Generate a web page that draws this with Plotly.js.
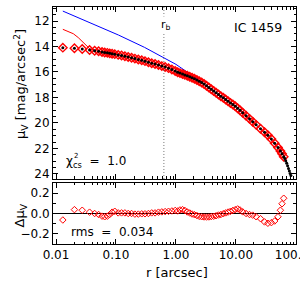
<!DOCTYPE html>
<html><head><meta charset="utf-8">
<script src="https://cdn.plot.ly/plotly-3.0.1.min.js"></script>
<style>html,body{margin:0;padding:0;background:#fff}#chart{width:300px;height:285px}</style>
</head><body><div id="chart"></div>
<script>
// fitted data points (radius in arcsec, surface brightness in mag/arcsec^2)
const rFit = [0.0130,0.0203,0.0274,0.0363,0.0441,0.0514,0.0586,0.0649,0.0719,0.0787,0.0863,0.0955,0.109,0.124,0.141,0.160,0.182,0.207,0.236,0.269,0.305,0.348,0.395,0.449,0.512,0.582,0.661,0.753,0.857,0.973,
  1.07,1.17,1.29,1.41,1.55,1.70,1.86,2.04,2.24,2.45,2.69,2.95,3.24,3.55,3.89,4.27,4.68,5.13,5.62,6.17,6.76,7.41,8.13,8.91,9.77,10.7,11.7,
  13.0,14.8,16.9,19.1,21.8,25.8,30.1,34.2,39.1,44.4,50.4,55.3,58.9,62.8];
const muFit = [14.09,14.14,14.20,14.27,14.33,14.38,14.43,14.47,14.50,14.54,14.57,14.60,14.66,14.71,14.77,14.83,14.89,14.95,15.02,15.08,15.15,15.23,15.31,15.38,15.46,15.54,15.61,15.70,15.81,15.93,
  16.02,16.09,16.16,16.23,16.30,16.38,16.45,16.53,16.63,16.73,16.83,16.95,17.08,17.22,17.36,17.49,17.63,17.77,17.90,18.03,18.16,18.30,18.43,18.56,18.69,18.85,19.01,
  19.20,19.44,19.68,19.91,20.15,20.45,20.73,20.96,21.26,21.60,21.93,22.20,22.42,22.65];
const resid = [-0.064,0.038,0.032,0.013,0.0,-0.010,-0.026,-0.032,-0.026,-0.010,0.013,0.022,0.006,0.006,0.006,0.0,0.0,-0.006,-0.006,-0.003,-0.003,0.0,0.006,0.006,0.013,0.016,0.019,0.022,0.025,0.030,
  0.025,0.035,0.038,0.030,0.015,0.005,-0.005,-0.012,-0.020,-0.028,-0.032,-0.034,-0.035,-0.034,-0.030,-0.027,-0.022,-0.015,-0.010,-0.002,0.006,0.014,0.022,0.030,0.038,0.045,0.035,
  0.016,0.0,-0.010,-0.016,-0.032,-0.051,-0.083,-0.096,-0.090,-0.074,-0.032,0.032,0.096,0.150];
// data points excluded from the fit
const rOut = [65.3,67.9,70.5,72.9,75.5,78.0,80.4,82.8];
const muOut = [22.80,22.98,23.17,23.37,23.57,23.77,23.96,24.12];
// core-Sersic model (red) and its Sersic part (blue)
const rModel = [0.0130,0.0195,0.0235,0.030,0.036,0.044,0.10,0.20,0.40,0.70,1.0,1.5,2.0,3.0,5.0,10,20,30,40,50,60,70];
const muModel = [12.65,13.00,13.30,13.80,14.15,14.32,14.62,14.94,15.31,15.63,15.93,16.23,16.52,17.02,17.75,18.69,19.98,20.80,21.40,21.94,22.38,22.95];
const rSersic = [0.0130,0.030,0.11,0.30,1.0,2.0,3.0,5.0,10,20,30,40,50,60,70];
const muSersic = [11.22,11.95,13.10,14.07,15.40,16.37,17.00,17.75,18.69,19.98,20.80,21.40,21.94,22.38,22.95];
const rBreak = 0.63;
const galaxy = 'IC 1459';
const chi2 = '1.0';
const rms = '0.034';
const xTickVals = [0.01,0.1,1,10,100];
const xTickText = ['0.01','0.10','1.00','10.00','100.00'];
const yTopTicks = [12,14,16,18,20,22,24];
const yBotVals = [-0.2,0,0.2];
const yBotText = ['\u22120.2','0.0','0.2'];

const F = 'DejaVu Sans, sans-serif';
const traces = [
  {x:rSersic, y:muSersic, xaxis:'x2', yaxis:'y2', mode:'lines', line:{color:'#0000ff', width:1}},
  {x:rModel, y:muModel, xaxis:'x2', yaxis:'y2', mode:'lines', line:{color:'#ff0000', width:1}},
  {x:rFit, y:muFit, xaxis:'x2', yaxis:'y2', mode:'markers', marker:{symbol:'diamond-open', size:6.5, color:'#ff0000', line:{width:1.4, color:'#ff0000'}}},
  {x:rFit.concat(rOut), y:muFit.concat(muOut), xaxis:'x2', yaxis:'y2', mode:'markers', marker:{symbol:'circle', size:3, color:'#000000'}},
  {x:rFit, y:resid, xaxis:'x', yaxis:'y', mode:'markers', marker:{symbol:'diamond-open', size:5, color:'#ff0000', line:{width:1, color:'#ff0000'}}}
];
const axCommon = {showline:true, linecolor:'#000', linewidth:1, mirror:'allticks', ticks:'inside', tickcolor:'#000', showgrid:false, zeroline:false, tickfont:{family:F, size:12, color:'#000'}};
const A = (o) => Object.assign({xref:'paper', yref:'paper', showarrow:false, xanchor:'center', yanchor:'middle'}, o);
const layout = {
  width:300, height:285, margin:{l:53, r:4, t:7, b:41}, showlegend:false,
  paper_bgcolor:'#fff', plot_bgcolor:'#fff',
  xaxis: Object.assign({}, axCommon, {type:'log', range:[-2.05, 2.003], anchor:'y', tickmode:'array', tickvals:xTickVals, ticktext:xTickText, ticklen:5,
    ticklabeloverflow:'allow', minor:{ticks:'inside', ticklen:2.5, dtick:'D1', tickcolor:'#000'}}),
  xaxis2: Object.assign({}, axCommon, {type:'log', range:[-2.05, 2.003], anchor:'y2', matches:'x', tickmode:'array', tickvals:xTickVals, showticklabels:false, ticklen:5,
    minor:{ticks:'inside', ticklen:2.5, dtick:'D1', tickcolor:'#000'}}),
  yaxis: Object.assign({}, axCommon, {domain:[0, 0.2574], range:[-0.3, 0.3], anchor:'x', tickmode:'array', tickvals:yBotVals, ticktext:yBotText, ticklen:5,
    zeroline:true, zerolinecolor:'#000', zerolinewidth:1, minor:{ticks:'inside', ticklen:3, dtick:0.1, tickcolor:'#000'}}),
  yaxis2: Object.assign({}, axCommon, {domain:[0.2743, 1], range:[24.4, 10.9], anchor:'x2', tickmode:'array', tickvals:yTopTicks, ticklen:5,
    minor:{ticks:'inside', ticklen:2.5, dtick:0.5, tickcolor:'#000'}}),
  shapes:[{type:'line', xref:'x2', yref:'paper', x0:rBreak, x1:rBreak, y0:0.2743, y1:1, line:{color:'#555', width:0.8, dash:'1px,2px'}}],
  annotations:[
    A({x:0.8436, y:0.9156, text:galaxy, font:{family:F, size:12.5, color:'#000'}}),
    A({x:0.467, y:0.922, text:'r<sub>b</sub>', bgcolor:'#fff', font:{family:F, size:11, color:'#000'}}),
    A({x:0.045, y:0.346, xanchor:'left', text:'\u03c7<sub>cs</sub>  =  ' + chi2, font:{family:F, size:12, color:'#000'}}),
    A({x:0.079, y:0.372, xanchor:'left', text:'2', font:{family:F, size:7, color:'#000'}}),
    A({x:0.0658, y:0.052, xanchor:'left', text:'rms  =  ' + rms, font:{family:F, size:12, color:'#000'}}),
    A({x:-0.132, y:0.675, text:'\u03bc<sub>V</sub> [mag/arcsec<sup>2</sup>]', textangle:-90, font:{family:F, size:13, color:'#000'}}),
    A({x:-0.132, y:0.12, text:'\u0394\u03bc<sub>V</sub>', textangle:-90, font:{family:F, size:13, color:'#000'}}),
    A({x:0.51, y:-0.12, text:'r [arcsec]', font:{family:F, size:13, color:'#000'}})
  ]
};
Plotly.newPlot('chart', traces, layout, {staticPlot:true, displayModeBar:false});
</script></body></html>
